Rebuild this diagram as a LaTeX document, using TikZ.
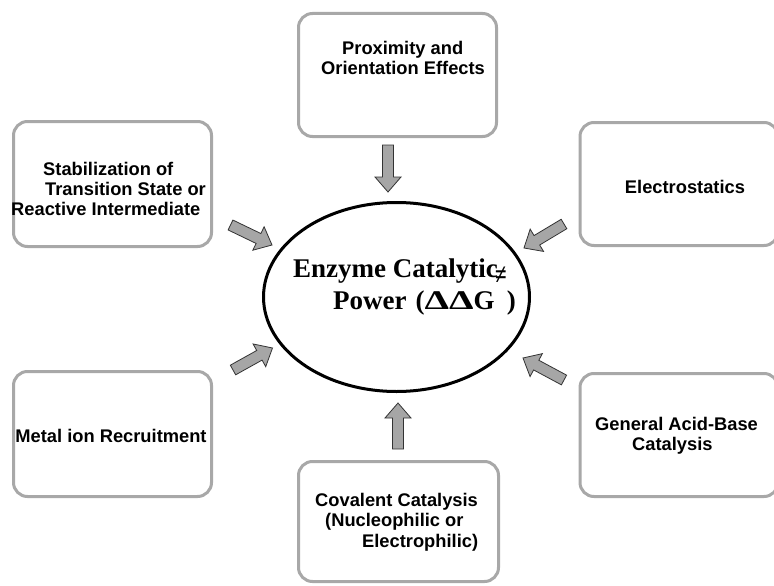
\documentclass[tikz,border=0pt]{standalone}
\usepackage{fontspec}
\usepackage{graphicx}
\setmainfont{Liberation Sans}
\newfontfamily\serifbold{Liberation Serif}
\usetikzlibrary{calc,shapes.geometric}
\definecolor{boxgray}{RGB}{168,168,168}
\definecolor{arrowgray}{RGB}{166,166,166}
\tikzset{
  box/.style={draw=boxgray, line width=3pt, rounded corners=14pt, minimum width=198pt, minimum height=123pt, inner sep=0pt},
  lbl/.style={font=\bfseries\fontsize{18.3}{20}\selectfont, align=left, inner sep=0pt, anchor=north west},
  lblone/.style={font=\bfseries\fontsize{18.3}{20}\selectfont, inner sep=0pt, anchor=base},
  barrow/.style={draw=black!80, line width=0.8pt, fill=arrowgray, line join=miter},
}
\newcommand\drawblockarrow[2]{%
  \path ($(#2)!15pt!(#1)$) coordinate (neck);
  \draw[barrow] ($(#1)!5.5pt!90:(#2)$) -- ($(neck)!5.5pt!90:(#2)$) -- ($(neck)!13pt!90:(#2)$) -- (#2)
    -- ($(neck)!13pt!-90:(#2)$) -- ($(neck)!5.5pt!-90:(#2)$) -- ($(#1)!5.5pt!-90:(#2)$) -- cycle;}
\newcommand\wdelta{\scalebox{1.45}[1]{Δ}}
\begin{document}
\begin{tikzpicture}[x=1pt,y=-1pt]
\clip (0,0) rectangle (774,586);
\fill[white] (0,0) rectangle (774,586);
% boxes
\node[box] (prox) at (397.5,75) {};
\node[box, minimum height=125pt] (stab) at (112.5,184) {};
\node[box, minimum height=123pt] (elec) at (679,184) {};
\node[box, minimum height=125pt] (metal) at (112.5,434) {};
\node[box, minimum height=123pt] (acid) at (679,435) {};
\node[box, minimum width=200pt, minimum height=120pt] (cov) at (398.5,521.5) {};
% box texts
\node[lbl] (proxt) at (321,41) {\hspace*{21pt}Proximity and\\Orientation Effects};
\node[lbl] (stabt) at (5,162) {\hspace*{38pt}Stabilization of\\\hspace*{40pt}Transition State or\\\hspace*{6pt}Reactive Intermediate};
\node[lblone] (elect) at (685,193) {Electrostatics};
\node[lblone] (metalt) at (111,442) {Metal ion Recruitment};
\node[lbl] (acidt) at (595,417) {General Acid-Base\\\hspace*{37pt}Catalysis};
\node[lbl, font=\bfseries\fontsize{18.3}{20.5}\selectfont] (covt) at (315,493) {Covalent Catalysis\\\hspace*{10pt}(Nucleophilic or\\\hspace*{47pt}Electrophilic)};
% central ellipse
\node[draw, ellipse, line width=3pt, minimum width=266pt, minimum height=189pt, inner sep=0pt] (core) at (396.5,297) {};
\node[anchor=north west, inner sep=0pt, align=left, font=\serifbold\bfseries\fontsize{27}{32}\selectfont] (coret) at (293,258.5)
  {Enzyme Catalytic\\\hspace*{40pt}Power\hspace{9pt}(\wdelta\wdelta G\kern0.5pt\smash{\raisebox{25pt}{\fontsize{21}{21}\selectfont\scalebox{1}[1.4]{≠}}})};
% arrow end points
\coordinate (a1t) at (388,145); \coordinate (a1h) at (388,192);
\coordinate (a2t) at (398,449); \coordinate (a2h) at (398,403);
\coordinate (a3t) at (230.5,225); \coordinate (a3h) at (272,245);
\coordinate (a4t) at (233,370); \coordinate (a4h) at (272.5,348);
\coordinate (a5t) at (564,224); \coordinate (a5h) at (524,248);
\coordinate (a6t) at (564,380); \coordinate (a6h) at (523,358);
\drawblockarrow{a1t}{a1h}
\drawblockarrow{a2t}{a2h}
\drawblockarrow{a3t}{a3h}
\drawblockarrow{a4t}{a4h}
\drawblockarrow{a5t}{a5h}
\drawblockarrow{a6t}{a6h}
\end{tikzpicture}
\end{document}
